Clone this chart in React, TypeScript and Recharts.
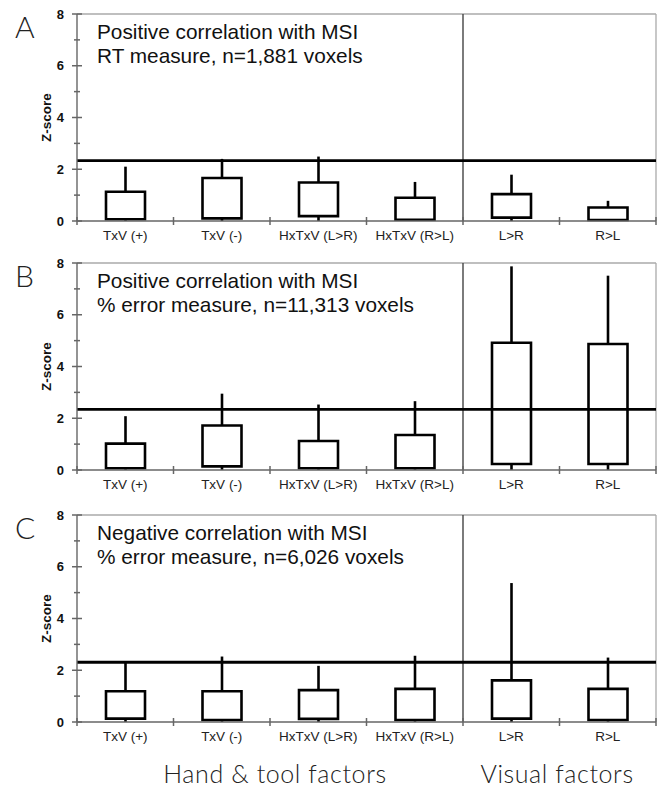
import { BarChart, Bar, XAxis, YAxis, ReferenceLine } from "recharts";

const categories = ["TxV (+)", "TxV (-)", "HxTxV (L>R)", "HxTxV (R>L)", "L>R", "R>L"];
const yTicks = [0, 1, 2, 3, 4, 5, 6, 7, 8];
const xTicks = [0, 0.5, 1, 1.5, 2, 2.5, 3, 3.5, 4, 4.5, 5, 5.5, 6];

// panel A: RT measure
const aBoxLow = [0.07, 0.1, 0.19, 0.05, 0.13, 0.04];
const aBoxHigh = [1.13, 1.66, 1.49, 0.9, 1.04, 0.52];
const aWhisker = [2.1, 2.4, 2.49, 1.51, 1.79, 0.78];
// panel B: % error, positive
const bBoxLow = [0.07, 0.14, 0.07, 0.07, 0.23, 0.23];
const bBoxHigh = [1.02, 1.72, 1.12, 1.35, 4.92, 4.87];
const bWhisker = [2.08, 2.95, 2.53, 2.66, 7.87, 7.51];
// panel C: % error, negative
const cBoxLow = [0.13, 0.08, 0.12, 0.08, 0.13, 0.08];
const cBoxHigh = [1.19, 1.19, 1.23, 1.28, 1.61, 1.28];
const cWhisker = [2.34, 2.53, 2.17, 2.56, 5.37, 2.49];

const thresholds = [2.33, 2.34, 2.31];

const ARIAL = "'Liberation Sans', Arial, sans-serif";
const ROUND = "Lato, 'Open Sans', sans-serif";

function makeRows(lo: number[], hi: number[], wh: number[]) {
  return categories.map((name, i) => ({
    x: i + 0.5,
    name,
    box: [lo[i], hi[i]],
    whisk: [0, wh[i]],
  }));
}

function XTick(props: any) {
  const { x, y, payload } = props;
  const v = payload.value;
  if (Number.isInteger(v)) {
    return <line x1={x} x2={x} y1={y - 4} y2={y + 4} stroke="#666" strokeWidth={1.5} />;
  }
  return (
    <text x={x} y={y + 19} textAnchor="middle" fontSize={13.5} fontFamily={ARIAL} fill="#222">
      {categories[Math.floor(v)]}
    </text>
  );
}

function YTick(props: any) {
  const { x, y, payload } = props;
  const v = payload.value;
  const major = v % 2 === 0;
  return (
    <g>
      <line x1={x - (major ? 5 : 3)} x2={x + (major ? 5 : 3)} y1={y} y2={y} stroke="#666" strokeWidth={1.5} />
      {major && (
        <text x={x - 13} y={y + 4.5} textAnchor="end" fontSize={13} fontWeight="bold" fontFamily={ARIAL} fill="#111">
          {v}
        </text>
      )}
    </g>
  );
}

function Whisker(props: any) {
  const { x, y, width, height } = props;
  const cx = x + width / 2;
  return <line x1={cx} x2={cx} y1={y} y2={y + height} stroke="#000" strokeWidth={2.6} />;
}

function Panel({ rows, threshold, top }: { rows: any[]; threshold: number; top: number }) {
  return (
    <div style={{ position: "absolute", left: 0, top }}>
      <BarChart width={657} height={250} data={rows} margin={{ top: 14, right: 1, bottom: 0, left: 0 }}>
        <XAxis xAxisId="w" type="number" dataKey="x" domain={[0, 6]} ticks={xTicks} hide />
        <XAxis
          xAxisId="m"
          type="number"
          dataKey="x"
          domain={[0, 6]}
          ticks={xTicks}
          interval={0}
          tickSize={0}
          tickMargin={0}
          tickLine={false}
          axisLine={{ stroke: "#666", strokeWidth: 1.4 }}
          height={29}
          tick={<XTick />}
        />
        <YAxis
          type="number"
          domain={[0, 8]}
          ticks={yTicks}
          interval={0}
          width={77}
          tickSize={0}
          tickMargin={0}
          tickLine={false}
          axisLine={{ stroke: "#666", strokeWidth: 1.4 }}
          tick={<YTick />}
          label={{
            value: "Z-score",
            angle: -90,
            position: "insideLeft",
            offset: 46,
            style: { textAnchor: "middle", fontFamily: ARIAL, fontSize: 13.5, fontWeight: "bold", fill: "#111" },
          }}
        />
        <ReferenceLine xAxisId="m" y={8} stroke="#aaa" strokeWidth={1.3} />
        <ReferenceLine xAxisId="m" x={6} stroke="#aaa" strokeWidth={1.3} />
        <ReferenceLine xAxisId="m" x={4} stroke="#444" strokeWidth={1.4} />
        <Bar xAxisId="w" dataKey="whisk" barSize={39} shape={<Whisker />} isAnimationActive={false} />
        <Bar
          xAxisId="m"
          dataKey="box"
          barSize={39}
          fill="#fff"
          stroke="#000"
          strokeWidth={2.6}
          isAnimationActive={false}
        />
        <ReferenceLine xAxisId="m" y={threshold} stroke="#000" strokeWidth={2.8} />
      </BarChart>
    </div>
  );
}

const panelTops = [0, 249, 501];
const letters = ["A", "B", "C"];
const titles = [
  ["Positive correlation with MSI", "RT measure, n=1,881 voxels"],
  ["Positive correlation with MSI", "% error measure, n=11,313 voxels"],
  ["Negative correlation with MSI", "% error measure, n=6,026 voxels"],
];

export default function App() {
  const rows = [
    makeRows(aBoxLow, aBoxHigh, aWhisker),
    makeRows(bBoxLow, bBoxHigh, bWhisker),
    makeRows(cBoxLow, cBoxHigh, cWhisker),
  ];
  return (
    <div style={{ position: "absolute", left: 0, top: 0, width: 657, height: 792, background: "#fff" }}>
      {rows.map((r, i) => (
        <Panel key={i} rows={r} threshold={thresholds[i]} top={panelTops[i]} />
      ))}
      <svg width={657} height={792} style={{ position: "absolute", left: 0, top: 0, pointerEvents: "none" }}>
        {panelTops.map((t, i) => (
          <g key={i}>
            <text x={15} y={t + 38} fontFamily={ROUND} fontWeight={300} fontSize={30} fill="#222">
              {letters[i]}
            </text>
            <text x={97} y={t + 39} fontFamily={ARIAL} fontSize={20.8} fill="#111">
              {titles[i][0]}
            </text>
            <text x={97} y={t + 63} fontFamily={ARIAL} fontSize={20.8} fill="#111">
              {titles[i][1]}
            </text>
          </g>
        ))}
        <text x={275} y={783} textAnchor="middle" fontFamily={ROUND} fontWeight={300} fontSize={25} letterSpacing={0.6} fill="#222">
          Hand &amp; tool factors
        </text>
        <text x={557} y={783} textAnchor="middle" fontFamily={ROUND} fontWeight={300} fontSize={25} letterSpacing={0.6} fill="#222">
          Visual factors
        </text>
      </svg>
    </div>
  );
}
